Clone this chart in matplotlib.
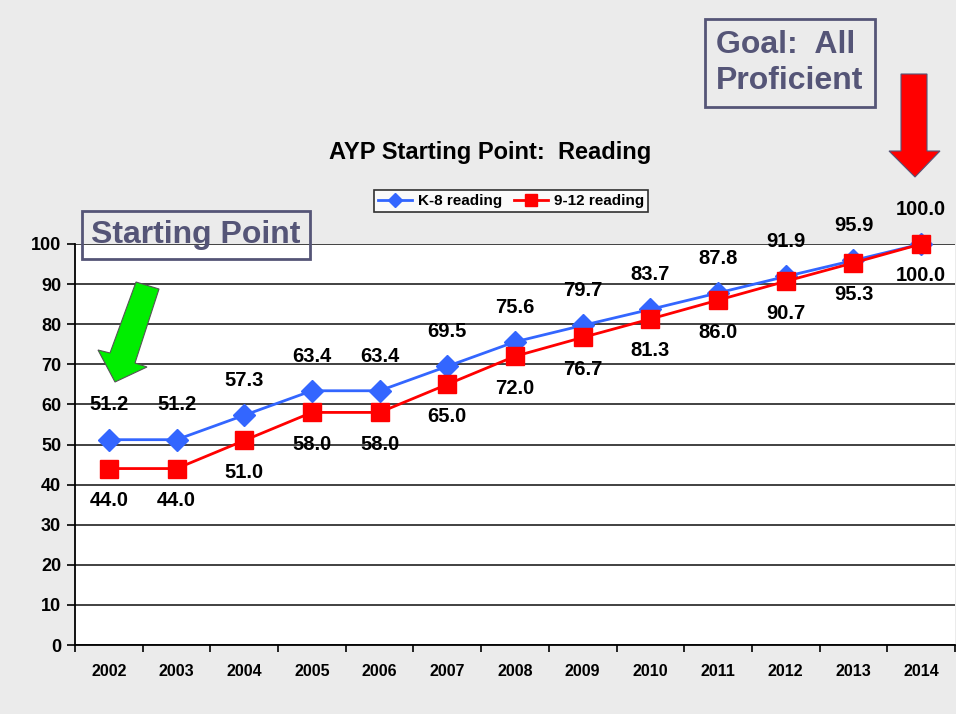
import numpy as np
import matplotlib
matplotlib.use("Agg")
import matplotlib.pyplot as plt
from matplotlib.patches import Polygon

plt.rcParams['font.family'] = ['Liberation Sans', 'DejaVu Sans']
plt.rcParams['font.weight'] = 'bold'

######### data ############
years = ['2002', '2003', '2004', '2005', '2006', '2007', '2008',
         '2009', '2010', '2011', '2012', '2013', '2014']
k8_reading = [51.2, 51.2, 57.3, 63.4, 63.4, 69.5, 75.6, 79.7, 83.7, 87.8, 91.9, 95.9, 100.0]
hs_reading = [44.0, 44.0, 51.0, 58.0, 58.0, 65.0, 72.0, 76.7, 81.3, 86.0, 90.7, 95.3, 100.0]
y_ticks = [0, 10, 20, 30, 40, 50, 60, 70, 80, 90, 100]
###########################

W, H = 956, 714
fig = plt.figure(figsize=(W / 100, H / 100), dpi=100)
fig.patch.set_facecolor('#ebebeb')


def px(x, y):
    # pixel (from top-left) -> figure fraction
    return (x / W, 1 - y / H)


ax = fig.add_axes([75 / W, 1 - 645 / H, 880 / W, 401 / H])
ax.set_facecolor('white')
x = np.arange(len(years))

ax.plot(x, k8_reading, color='#3366ff', lw=2, marker='D', ms=11.5,
        label='K-8 reading', zorder=3, clip_on=False)
ax.plot(x, hs_reading, color='#ff0000', lw=2, marker='s', ms=13.5,
        label='9-12 reading', zorder=4, clip_on=False)

for xi, v in zip(x, k8_reading):
    ax.annotate(f'{v:.1f}', (xi, v), xytext=(0, 25), textcoords='offset points',
                ha='center', va='center', fontsize=14.5, fontweight='bold',
                annotation_clip=False)
for xi, v in zip(x, hs_reading):
    ax.annotate(f'{v:.1f}', (xi, v), xytext=(0, -23), textcoords='offset points',
                ha='center', va='center', fontsize=14.5, fontweight='bold',
                annotation_clip=False)

ax.set_xlim(-0.5, len(years) - 0.5)
ax.set_ylim(0, 100)
ax.set_yticks(y_ticks)
ax.set_yticklabels([str(t) for t in y_ticks], fontsize=13, fontweight='bold')
ax.set_xticks(x)
ax.set_xticklabels(years, fontsize=11.5, fontweight='bold')
ax.set_xticks(np.arange(len(years) + 1) - 0.5, minor=True)
ax.tick_params(axis='x', which='major', length=0, pad=14)
ax.tick_params(axis='x', which='minor', length=5, width=1.2, direction='out')
ax.tick_params(axis='y', length=6, width=1.2, direction='out', pad=4)
ax.yaxis.grid(True, color='#333333', lw=1.3)
ax.set_axisbelow(True)
for s in ['top', 'right']:
    ax.spines[s].set_visible(False)
ax.spines['left'].set_linewidth(1.3)
ax.spines['bottom'].set_linewidth(1.3)

fig.text(*px(490, 152), 'AYP Starting Point:  Reading', ha='center', va='center',
         fontsize=17, fontweight='bold')

leg = ax.legend(loc='center', bbox_to_anchor=px(511, 201), bbox_transform=fig.transFigure,
                ncol=2, fontsize=11, frameon=True, fancybox=False, edgecolor='black',
                markerscale=0.6, handlelength=2.2, handletextpad=0.4, columnspacing=0.8,
                borderpad=0.25)
leg.get_frame().set_linewidth(1.2)

# annotation boxes
fig.text(*px(196, 235), 'Starting Point', ha='center', va='center', fontsize=23,
         fontweight='bold', color='#555577',
         bbox=dict(boxstyle='square,pad=0.28', fc='none', ec='#555577', lw=2))
fig.text(*px(716, 63), 'Goal:  All\nProficient', ha='left', va='center', fontsize=23,
         fontweight='bold', color='#555577', linespacing=1.25, multialignment='left',
         bbox=dict(boxstyle='square,pad=0.35', fc='none', ec='#555577', lw=2))

# arrows
green = [(136, 282), (159, 289), (135, 363), (147, 367), (115, 382), (98, 350), (110, 353)]
red = [(901, 74), (927, 74), (927, 151), (940, 151), (915, 177), (889, 151), (901, 151)]
fig.patches.append(Polygon([px(a, b) for a, b in green], closed=True, fc='#00ee00',
                           ec='#555555', lw=0.8, transform=fig.transFigure, figure=fig))
fig.patches.append(Polygon([px(a, b) for a, b in red], closed=True, fc='#ff0000',
                           ec='#555577', lw=0.8, transform=fig.transFigure, figure=fig))

fig.savefig('out.png', dpi=100, facecolor=fig.get_facecolor())
